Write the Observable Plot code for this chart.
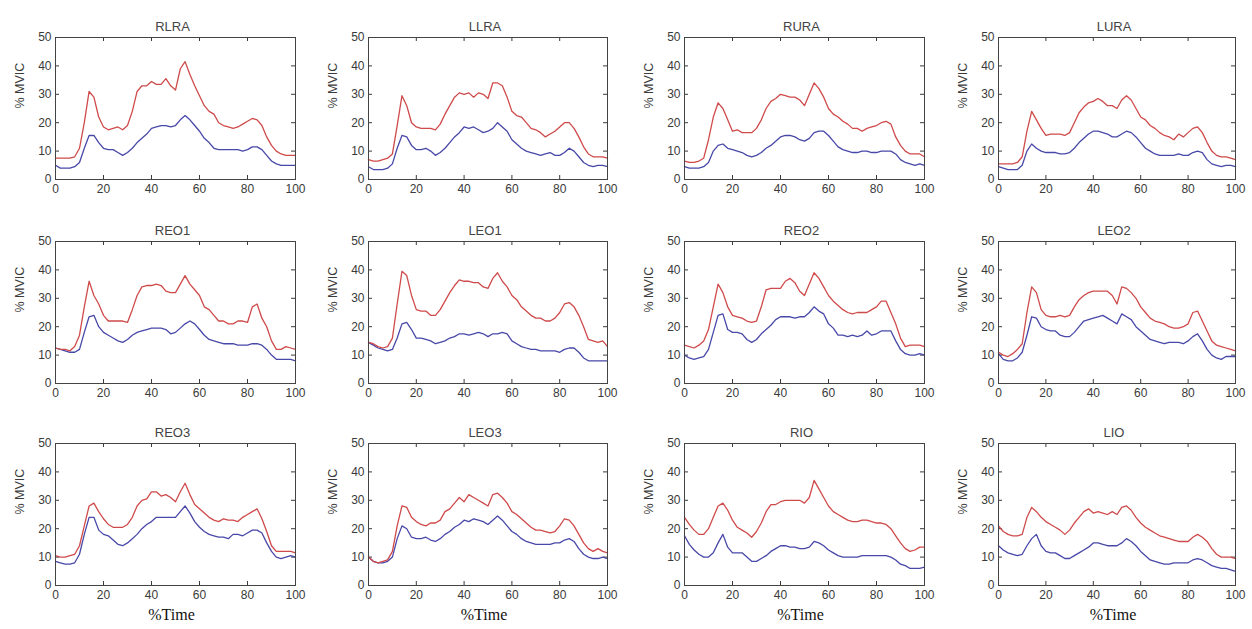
<!DOCTYPE html>
<html>
<head>
<meta charset="utf-8">
<script src="https://cdn.jsdelivr.net/npm/d3@7"></script>
<script src="https://cdn.jsdelivr.net/npm/@observablehq/plot@0.6"></script>
<style>
  html, body { margin: 0; padding: 0; background: #ffffff; }
  #chart { position: relative; width: 1252px; height: 629px; overflow: hidden; background: #ffffff; }
  #chart .panel { position: absolute; }
</style>
</head>
<body>
<div id="chart"></div>
<script>
// ---- data ----
const time = [0,2,4,6,8,10,12,14,16,18,20,22,24,26,28,30,32,34,36,38,40,42,44,46,48,50,52,54,56,58,60,62,64,66,68,70,72,74,76,78,80,82,84,86,88,90,92,94,96,98,100];
const xTicks = [0, 20, 40, 60, 80, 100];
const yTicks = [0, 10, 20, 30, 40, 50];
const names = ["RLRA", "LLRA", "RURA", "LURA", "REO1", "LEO1", "REO2", "LEO2", "REO3", "LEO3", "RIO", "LIO"];
const xLabel = "%Time";
const yLabel = "% MVIC";

const rlraRed  = [7.5,7.5,7.5,7.5,8,11,20,31,29,22,18.5,17.5,18,18.5,17.5,19,24,31,33,33,34.5,33.5,33.5,35.5,33,31.5,39,41.5,37,33,29.5,26,24,23,20,19,18.5,18,18.5,19.5,20.5,21.5,21,19,15,12,10,9,8.5,8.5,8.5];
const rlraBlue = [5,4,4,4,4.5,6,11,15.5,15.5,13,11,10.5,10.5,9.5,8.5,9.5,11,13,14.5,16,18,18.5,19,19,18.5,19,21,22.5,21,19,17,14.5,13,11,10.5,10.5,10.5,10.5,10.5,10,10.5,11.5,11.5,10.5,8.5,6.5,5.5,5,5,5,5];
const llraRed  = [7,6.5,6.5,7,7.5,9,19,29.5,26,20,18.5,18,18,18,17.5,19.5,23,26,29,30.5,30,30.5,29,30.5,30,28.5,34,34,33,29,24,22.5,22,20,18,17.5,16.5,15,16,17,18.5,20,20,18,15,11.5,9,8,8,8,7.5];
const llraBlue = [4.5,3.5,3.5,3.5,4,5.5,11,15.5,15,12,10.5,10.5,11,10,8.5,9.5,11,13,15,16.5,18.5,18,18.5,17.5,16.5,17,18,20,18.5,17,14,12.5,11,10,9.5,9,8.5,9,9.5,8.5,8.5,9.5,11,10,8,6,5,4.5,5,5,4.5];
const ruraRed  = [6.5,6,6,6.5,7.5,14,22,27,25,21,17,17.5,16.5,16.5,16.5,18,21,25,27.5,28.5,30,29.5,29,29,28,26,30,34,32,29,25,23,22,20.5,19.5,18,18,17,18,18.5,19,20,20.5,19.5,15,12,10,9,9,9,8];
const ruraBlue = [4.5,4,4,4,4.5,6,10,12,12.5,11,10.5,10,9.5,8.5,8,8.5,9.5,11,12,13.5,15,15.5,15.5,15,14,13.5,14.5,16.5,17,17,15.5,13.5,11.5,10.5,10,9.5,9.5,10,10,9.5,9.5,10,10,10,9,7,6,5.5,5,5.5,5];
const luraRed  = [5.5,5.5,5.5,5.5,6,8,17,24,21,18,15.5,16,16,16,15.5,16.5,20,23.5,25.5,27,27.5,28.5,27.5,26,26,25,28,29.5,28,25,22,21,19,18,16.5,15.5,15,14,16,15,16.5,18,18.5,16.5,13,10,8.5,8,8,7.5,7];
const luraBlue = [4.5,4,3.5,3.5,3.5,5,10,12.5,11,10,9.5,9.5,9.5,9,9,9.5,11,13,14.5,16,17,17,16.5,16,15,15,16,17,16.5,15,13,11,10,9,8.5,8.5,8.5,8.5,9,8.5,8.5,9.5,10,9.5,7,5.5,5,4.5,5,5,4.5];
const reo1Red  = [12.5,12,12,11.5,13,17,27,36,31,28,24,22,22,22,22,21.5,26,31,34,34.5,34.5,35,34.5,32.5,32,32,35,38,35,33,31,27,26,24,22,22,21,21,22,22,21.5,27,28,23,20,15,12,12,13,12.5,12];
const reo1Blue = [12.5,12,11.5,11,11,12,18,23.5,24,20,18,17,16,15,14.5,15.5,17,18,18.5,19,19.5,19.5,19.5,19,17.5,18,19.5,21,22,21,19,17,15.5,15,14.5,14,14,14,13.5,13.5,13.5,14,14,13.5,12,10,8.5,8.5,8.5,8.5,8];
const leo1Red  = [14.5,14,13,12.5,13,16,28,39.5,38,31,26,25.5,25.5,24,24,26,29,32,34.5,36.5,36,36,35.5,35.5,34,33.5,37,39,36,34,31,29.5,27,25.5,24,23,23,22,22,23,25,28,28.5,27,24,20,15.5,15,14.5,15,13];
const leo1Blue = [14.5,13.5,12.5,12,11.5,12,16,21,21.5,19,16,16,15.5,15,14,14.5,15,16,16.5,17.5,17.5,17,17.5,18,17.5,16.5,17.5,17.5,18,17.5,15,14,13,12.5,12,12,11.5,11.5,11.5,11.5,11,12,12.5,12.5,11,9,8,8,8,8,8];
const reo2Red  = [13.5,13,12.5,13.5,15,19,27,35,32,27,24,23.5,23,22,21.5,22,27,33,33.5,33.5,33.5,36,37,35.5,32.5,31,35,39,37,34,31,29,27.5,26,25,24.5,25,25,25,26,27,29,29,25,21,16,13,13.5,13.5,13.5,13];
const reo2Blue = [10,9,8.5,9,9.5,12,18,24,24.5,19,18,18,17.5,15.5,14.5,15.5,17.5,19,20.5,22.5,23.5,23.5,23.5,23,23.5,23.5,25,27,25.5,24.5,21,19.5,17,17,16.5,17,16.5,17,18.5,17,17.5,18.5,18.5,18.5,15,12,10.5,10,10,10.5,10];
const leo2Red  = [11,10,9.5,10.5,12,14,25,34,32,26,24,23.5,23.5,24,23.5,24,27,29.5,31,32,32.5,32.5,32.5,32.5,31,28,34,33.5,32,30,27,25,23,22,21.5,21,20,19.5,19.5,20,21,25,25.5,22,18.5,15,13.5,13,12.5,12,11.5];
const leo2Blue = [10.5,8.5,8,8,9,11,17,23.5,23,20,19,18.5,18.5,17,16.5,16.5,18,20,22,22.5,23,23.5,24,23,22,21,24.5,23.5,22.5,20,18.5,17,15.5,15,14.5,14,14.5,14.5,14.5,14,15,16.5,17.5,15,12,10,9,8.5,9.5,9.5,9.5];
const reo3Red  = [10.5,10,10,10.5,11,14,21,28,29,26,23.5,21.5,20.5,20.5,20.5,21.5,24,28,30,30.5,33,33,31.5,32,31,29.5,33,36,32,28.5,27,25.5,24,23,22.5,23.5,23,23,22.5,24,25,26,27,23.5,19,14,12,12,12,12,11.5];
const reo3Blue = [8.5,8,7.5,7.5,8,11,18,24,24,19.5,18,17.5,16,14.5,14,15,16.5,18,20,21.5,22.5,24,24,24,24,24,26,28,25.5,22.5,20.5,19,18,17.5,17,17,16.5,18,18,17.5,18.5,19.5,19.5,18.5,15,12,10,9.5,10,10.5,10];
const leo3Red  = [10,8.5,8,8.5,9,12,21,28,27.5,24,22.5,21.5,21,22,22,23,26,27,29,31,29.5,32,31,30,29,28,32,32.5,31,29,26,25,23.5,22,20.5,19.5,19.5,19,18.5,19,21,23.5,23,21,18,15,13,12,13,12,11.5];
const leo3Blue = [10,8.5,8,8,8.5,10,16.5,21,20,17,16.5,16.5,17,16,15.5,16.5,18,19,20.5,21.5,23,22.5,23.5,23,22.5,21.5,23,24.5,23,21,19,18,16.5,15.5,15,14.5,14.5,14.5,14.5,15,15,16,16.5,15.5,13,11,10,9.5,9.5,10,9.5];
const rioRed   = [24,21.5,19.5,18,18,20,24,28,29,26.5,23,20.5,19.5,18.5,17,19,22,26,28.5,28.5,29.5,30,30,30,30,29,31,37,34,31,28,26,25,24,23,22.5,22.5,23,23,22.5,22,22,21.5,20,17.5,15,13,12,12.5,13.5,13.5];
const rioBlue  = [17.5,14.5,12.5,11,10,10,11.5,15,18,13.5,11.5,11.5,11.5,10,8.5,8.5,9.5,10.5,12,13,14,14,13.5,13.5,13,13,13.5,15.5,15,14,12.5,11.5,10.5,10,10,10,10,10.5,10.5,10.5,10.5,10.5,10.5,10,9,7.5,7,6,6,6,6.5];
const lioRed   = [21,19,18,17.5,17.5,18,24,27.5,26,24,22.5,21.5,20.5,19.5,18,19.5,22,24,26,27,25.5,26,25.5,25,26,25,27.5,28,26.5,24,22,20.5,19.5,18.5,17.5,17,16.5,16,15.5,15.5,15.5,17,18,17,15.5,13,11,10,10,10,9.5];
const lioBlue  = [14,12.5,11.5,11,10.5,11,14,16.5,18,14,12,11.5,11.5,10.5,9.5,9.5,10.5,11.5,12.5,13.5,15,15,14.5,14,14,14,15,16.5,15.5,14,12,10.5,9,8.5,8,7.5,7.5,8,8,8,8,9,9.5,9,8,7,6.5,6,6,5.5,5];

const redSeries  = [rlraRed, llraRed, ruraRed, luraRed, reo1Red, leo1Red, reo2Red, leo2Red, reo3Red, leo3Red, rioRed, lioRed];
const blueSeries = [rlraBlue, llraBlue, ruraBlue, luraBlue, reo1Blue, leo1Blue, reo2Blue, leo2Blue, reo3Blue, leo3Blue, rioBlue, lioBlue];

// ---- layout ----
const colLeft  = [55, 368, 684, 998];
const colWidth = [240, 239, 240, 237];
const rowTop   = [37, 241, 443];
const frameH   = 142;
const ml = 52, mr = 10, mt = 30, mb = 46;
const sansFont = "'Liberation Sans', Arial, Helvetica, sans-serif";
const serifFont = "'Liberation Serif', 'Times New Roman', serif";
const redColor = "#cf4a4a";
const blueColor = "#4848a8";
const inkColor = "#3a3a3a";

const chart = document.getElementById("chart");

names.forEach((name, i) => {
  const row = Math.floor(i / 4), col = i % 4;
  const w = colWidth[col];
  const marks = [
    // inward ticks (MATLAB style) on all four sides
    Plot.tickX(xTicks, {x: d => d, insetTop: frameH - 4, stroke: inkColor, strokeWidth: 1}),
    Plot.tickX(xTicks, {x: d => d, insetBottom: frameH - 4, stroke: inkColor, strokeWidth: 1}),
    Plot.tickY(yTicks, {y: d => d, insetRight: w - 4, stroke: inkColor, strokeWidth: 1}),
    Plot.tickY(yTicks, {y: d => d, insetLeft: w - 4, stroke: inkColor, strokeWidth: 1}),
    Plot.axisX({ticks: xTicks, tickSize: 0, tickPadding: 5, label: null, fontSize: 12, fill: inkColor}),
    Plot.axisY({ticks: yTicks, tickSize: 0, tickPadding: 4, label: null, fontSize: 12, fill: inkColor}),
    Plot.line(blueSeries[i], {x: time, y: blueSeries[i], stroke: blueColor, strokeWidth: 1.3}),
    Plot.line(redSeries[i], {x: time, y: redSeries[i], stroke: redColor, strokeWidth: 1.3}),
    Plot.frame({stroke: "#444", strokeWidth: 1}),
    Plot.text([name], {text: d => d, frameAnchor: "top", dy: -16, dx: -3, fontSize: 13, fill: "#444"}),
    Plot.text([yLabel], {text: d => d, frameAnchor: "left", rotate: -90, dx: -36, fontSize: 12.5, fill: inkColor})
  ];
  if (row === 2) {
    marks.push(Plot.text([xLabel], {text: d => d, frameAnchor: "bottom", dy: 34, dx: -4, fontSize: 16, fontFamily: serifFont, fill: "#111"}));
  }
  const svg = Plot.plot({
    width: ml + w + mr,
    height: mt + frameH + mb,
    marginLeft: ml,
    marginRight: mr,
    marginTop: mt,
    marginBottom: mb,
    x: {domain: [0, 100]},
    y: {domain: [0, 50]},
    style: {fontFamily: sansFont, background: "transparent", overflow: "visible", color: inkColor},
    marks
  });
  svg.classList.add("panel");
  svg.style.left = (colLeft[col] - ml) + "px";
  svg.style.top = (rowTop[row] - mt) + "px";
  svg.style.maxWidth = "none";
  chart.appendChild(svg);
});
</script>
</body>
</html>
